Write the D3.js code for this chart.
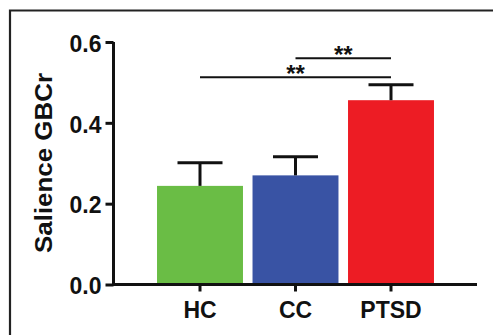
<!DOCTYPE html>
<html>
<head>
<meta charset="utf-8">
<script src="https://cdn.jsdelivr.net/npm/d3@7"></script>
<style>
  body { margin: 0; background: #fff; }
  text { font-family: "Liberation Sans", Arial, Helvetica, sans-serif; font-weight: bold; fill: #111; }
</style>
</head>
<body>
<svg id="chart" width="493" height="335"></svg>
<script>
// values
const groups = ['HC', 'CC', 'PTSD'];
const means = [0.244, 0.270, 0.456];
const sems = [0.057, 0.046, 0.038];
const colors = ['#6abd45', '#3953a4', '#ed1c24'];
const yTicks = [0.0, 0.2, 0.4, 0.6];
const comparisons = [
  { from: 'HC', to: 'PTSD', y: 0.513, label: '**' },
  { from: 'CC', to: 'PTSD', y: 0.560, label: '**' }
];

const svg = d3.select('#chart');
const ink = '#111';

// frame (top + left only)
svg.append('path')
  .attr('d', 'M10,335 L10,10.5 L493,10.5')
  .attr('fill', 'none')
  .attr('stroke', '#222')
  .attr('stroke-width', 2.2);

const x = d3.scaleBand()
  .domain(groups)
  .range([152.25, 438.75])
  .paddingInner(0.1)
  .paddingOuter(0.05);

const y = d3.scaleLinear()
  .domain([0, 0.6])
  .range([284.5, 42]);

// bars
svg.append('g')
  .selectAll('rect')
  .data(groups)
  .enter().append('rect')
  .attr('x', d => x(d))
  .attr('width', x.bandwidth())
  .attr('y', (d, i) => y(means[i]))
  .attr('height', (d, i) => y(0) - y(means[i]))
  .attr('fill', (d, i) => colors[i]);

// error bars (upper only)
const eb = svg.append('g').attr('stroke', ink).attr('stroke-width', 3);
groups.forEach((g, i) => {
  const cx = x(g) + x.bandwidth() / 2;
  eb.append('line')
    .attr('x1', cx).attr('x2', cx)
    .attr('y1', y(means[i])).attr('y2', y(means[i] + sems[i]));
  eb.append('line')
    .attr('x1', cx - 22.5).attr('x2', cx + 22.5)
    .attr('y1', y(means[i] + sems[i])).attr('y2', y(means[i] + sems[i]));
});

// y axis
const yAxis = svg.append('g')
  .attr('transform', 'translate(113.5,0)')
  .call(d3.axisLeft(y).tickValues(yTicks).tickFormat(d3.format('.1f')).tickSize(8).tickPadding(4));
yAxis.select('.domain').attr('d', 'M0,' + y(0.6) + 'V' + y(0)).attr('stroke', ink).attr('stroke-width', 3);
yAxis.selectAll('.tick line').attr('stroke', ink).attr('stroke-width', 3);
yAxis.selectAll('.tick text')
  .attr('font-size', 23)
  .attr('dy', '0.4em')
  .style('fill', ink);

// x axis
const xAxis = svg.append('g')
  .attr('transform', 'translate(0,' + y(0) + ')')
  .call(d3.axisBottom(x).tickSize(7).tickPadding(9));
xAxis.select('.domain').attr('d', 'M112,0H477').attr('stroke', ink).attr('stroke-width', 3);
xAxis.selectAll('.tick line').attr('stroke', ink).attr('stroke-width', 3);
xAxis.selectAll('.tick text')
  .attr('font-size', 23)
  .attr('dy', '0.75em')
  .style('fill', ink);

// y axis title
svg.append('text')
  .attr('transform', 'translate(51.5,163) rotate(-90)')
  .attr('text-anchor', 'middle')
  .attr('font-size', 23)
  .attr('textLength', 180)
  .attr('lengthAdjust', 'spacingAndGlyphs')
  .text('Salience GBCr');

// significance brackets
const sig = svg.append('g');
comparisons.forEach(c => {
  const x1 = x(c.from) + x.bandwidth() / 2;
  const x2 = x(c.to) + x.bandwidth() / 2;
  sig.append('line')
    .attr('x1', x1).attr('x2', x2)
    .attr('y1', y(c.y)).attr('y2', y(c.y))
    .attr('stroke', ink).attr('stroke-width', 2);
  sig.append('text')
    .attr('x', (x1 + x2) / 2)
    .attr('y', y(c.y) + 5)
    .attr('text-anchor', 'middle')
    .attr('font-size', 24)
    .text(c.label);
});
</script>
</body>
</html>
